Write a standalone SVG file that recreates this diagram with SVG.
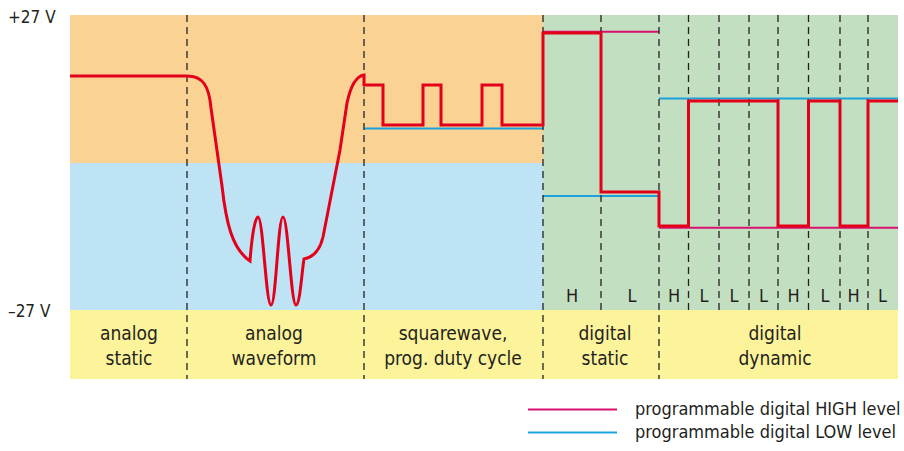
<svg xmlns="http://www.w3.org/2000/svg" width="904" height="451" viewBox="0 0 904 451">
<style>
.t{font-family:"DejaVu Sans Condensed","Liberation Sans Narrow","Liberation Sans",sans-serif;fill:#231f20}
.lab{font-size:19px;text-anchor:middle}
.hl{font-size:18px;text-anchor:middle}
.ax{font-size:17px}
.lg{font-size:18px}
.dash{stroke:#222;stroke-width:1.3;stroke-dasharray:7 5;fill:none}
.sig{stroke:#e3001b;stroke-width:3;fill:none;stroke-linejoin:miter}
.hi{stroke:#d8106f;stroke-width:2;fill:none}
.lo{stroke:#1ba1db;stroke-width:2;fill:none}
</style>
<rect width="904" height="451" fill="#fff"/>
<g id="background">
<rect x="70" y="15" width="473" height="148" fill="#fad394"/>
<rect x="70" y="163" width="473" height="147" fill="#bde3f5"/>
<rect x="543" y="15" width="355" height="295" fill="#c3dfc1"/>
<rect x="70" y="310" width="828" height="69" fill="#fdf39a"/>
</g>
<g id="axis-labels">
<text class="t ax" x="8" y="23">+27 V</text>
<text class="t ax" x="8" y="317">–27 V</text>
</g>
<g id="levels">
<path class="lo" d="M364 128.5H543"/>
<path class="hi" d="M543 31.7H659"/>
<path class="lo" d="M543 196H659"/>
<path class="lo" d="M659 98.5H898"/>
<path class="hi" d="M659 227.7H898"/>
</g>
<g id="dividers">
<path class="dash" d="M187 15V379M364 15V379M543 15V379M659 15V379"/>
<path class="dash" d="M601 15V310M688.5 15V310M719 15V310M749 15V310M778 15V310M808.5 15V310M840 15V310M868 15V310"/>
</g>
<g id="signal">
<path class="sig" d="M70 76H187C203 76 209 86 211 108L222 186C226 222 232 249 250 261C252 235 255 217 258 217C263 217 266 305 271 305C276 305 278 217 283 217C288 217 291 305 296 305C300 305 302 270 304 259C314 257 320 250 323 237L340 150L347 103C351 84 357 76 364 75V85H383V125H423V85H441V125H482V85H502V125H543V33H601V192H659V226H688.5V101H778V226H808.5V101H840V226H868V101H898"/>
</g>
<g id="hl-labels">
<text class="t hl" x="572" y="302">H</text>
<text class="t hl" x="632" y="302">L</text>
<text class="t hl" x="674" y="302">H</text>
<text class="t hl" x="704" y="302">L</text>
<text class="t hl" x="734" y="302">L</text>
<text class="t hl" x="763.5" y="302">L</text>
<text class="t hl" x="793.5" y="302">H</text>
<text class="t hl" x="825" y="302">L</text>
<text class="t hl" x="853.5" y="302">H</text>
<text class="t hl" x="882.5" y="302">L</text>
</g>
<g id="section-analog-static"><text class="t lab" x="129" y="340">analog</text><text class="t lab" x="129" y="365">static</text></g>
<g id="section-analog-waveform"><text class="t lab" x="274" y="340">analog</text><text class="t lab" x="274" y="365">waveform</text></g>
<g id="section-squarewave"><text class="t lab" x="453" y="340">squarewave,</text><text class="t lab" x="453" y="365">prog. duty cycle</text></g>
<g id="section-digital-static"><text class="t lab" x="605" y="340">digital</text><text class="t lab" x="605" y="365">static</text></g>
<g id="section-digital-dynamic"><text class="t lab" x="775" y="340">digital</text><text class="t lab" x="775" y="365">dynamic</text></g>
<g id="legend">
<path class="hi" d="M528 409.5H617"/>
<path class="lo" d="M528 432.5H617"/>
<text class="t lg" x="635" y="415">programmable digital HIGH level</text>
<text class="t lg" x="635" y="438">programmable digital LOW level</text>
</g>
</svg>
